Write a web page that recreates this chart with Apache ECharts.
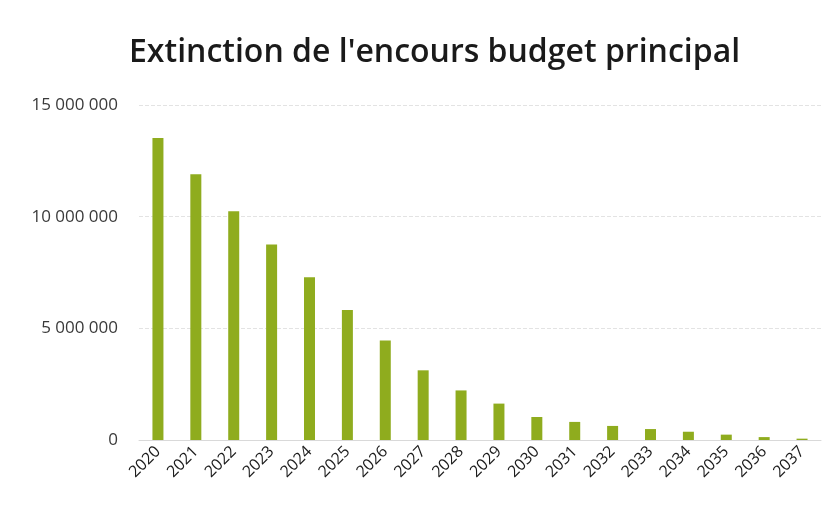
<!DOCTYPE html>
<html>
<head>
<meta charset="utf-8">
<script src="https://cdn.jsdelivr.net/npm/echarts@6/dist/echarts.min.js"></script>
<style>
  html, body { margin: 0; padding: 0; background: #fff; }
  #chart { width: 833px; height: 512px; }
</style>
</head>
<body>
<div id="chart"></div>
<script>
const years = ['2020', '2021', '2022', '2023', '2024', '2025', '2026', '2027', '2028',
  '2029', '2030', '2031', '2032', '2033', '2034', '2035', '2036', '2037'];
const encours = [13520000, 11900000, 10240000, 8750000, 7290000, 5820000, 4460000, 3120000, 2220000,
  1630000, 1030000, 810000, 630000, 490000, 370000, 240000, 130000, 60000];
const yTicks = [0, 5000000, 10000000, 15000000];

// "15 000 000" style labels
function fmt(v) {
  return String(v).replace(/\B(?=(\d{3})+(?!\d))/g, ' ');
}

const chart = echarts.init(document.getElementById('chart'));
chart.setOption({
  animation: false,
  title: {
    text: "Extinction de l'encours budget principal",
    left: 124,
    top: 32,
    textStyle: { fontFamily: 'Open Sans', fontSize: 32, fontWeight: 600, color: '#1a1a1a' }
  },
  grid: { left: 139, right: 12, top: 105, bottom: 72 },
  xAxis: {
    type: 'category',
    data: years,
    axisLine: { show: true, lineStyle: { color: '#d9d9d9' } },
    axisTick: { show: false },
    axisLabel: {
      rotate: 45,
      interval: 0,
      margin: 9,
      fontFamily: 'Open Sans',
      fontSize: 16,
      color: '#1a1a1a'
    }
  },
  yAxis: {
    type: 'value',
    min: yTicks[0],
    max: yTicks[yTicks.length - 1],
    interval: yTicks[1] - yTicks[0],
    axisLine: { show: false },
    axisTick: { show: false },
    splitLine: { lineStyle: { color: '#e3e3e3', type: 'dashed' } },
    axisLabel: {
      margin: 21,
      fontFamily: 'Open Sans',
      fontSize: 17,
      color: '#3a3a3a',
      formatter: fmt
    }
  },
  series: [{
    type: 'bar',
    data: encours,
    barWidth: 11,
    itemStyle: { color: '#8FAC1E' }
  }]
});
</script>
</body>
</html>
